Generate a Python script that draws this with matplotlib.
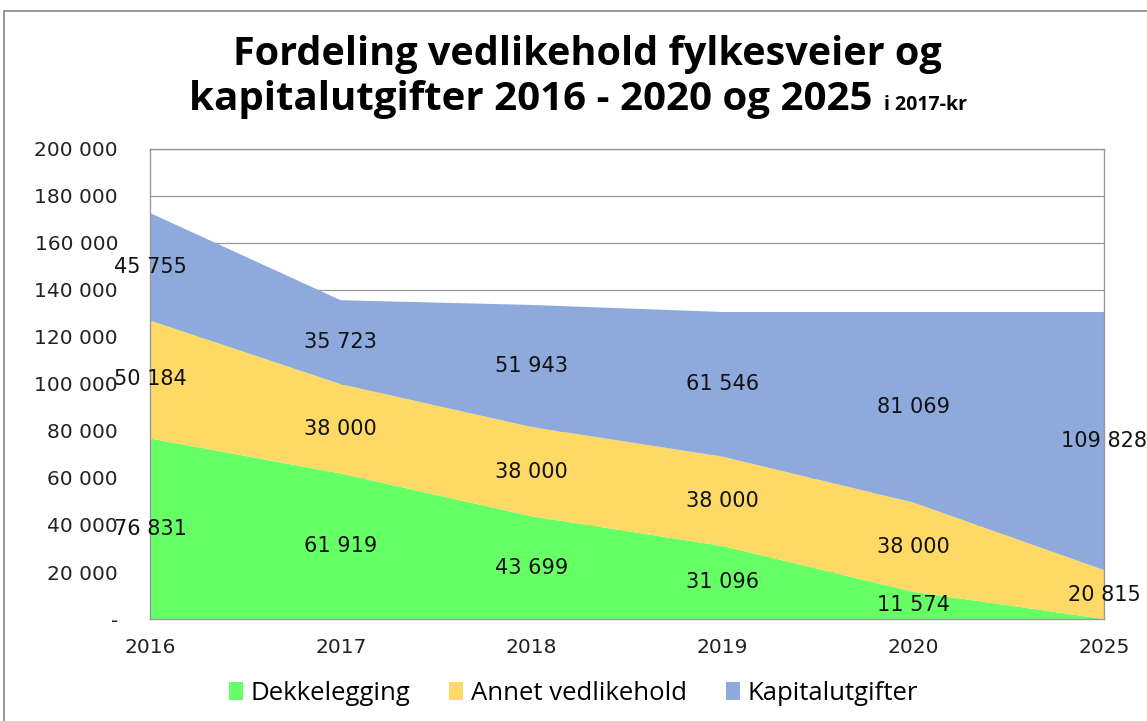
import matplotlib.pyplot as plt
import numpy as np
from matplotlib.patches import Rectangle

years = ["2016", "2017", "2018", "2019", "2020", "2025"]
dekkelegging = [76831, 61919, 43699, 31096, 11574, 0]
annet = [50184, 38000, 38000, 38000, 38000, 20815]
kapital = [45755, 35723, 51943, 61546, 81069, 109828]

series_names = ["Dekkelegging", "Annet vedlikehold", "Kapitalutgifter"]
colors = ["#66FF66", "#FFD966", "#8EA9DB"]
yticks = [0, 20000, 40000, 60000, 80000, 100000, 120000, 140000, 160000, 180000, 200000]


def fmt(v):
    if v == 0:
        return "-"
    return f"{v:,}".replace(",", " ")


W, H = 1147, 721
fig = plt.figure(figsize=(W / 100, H / 100), dpi=100)
ax = fig.add_axes([150 / W, 1 - 619 / H, 954 / W, 470 / H])

x = np.arange(len(years))
data = [dekkelegging, annet, kapital]
ax.stackplot(x, *data, colors=colors, labels=series_names, zorder=2)

# data labels in the middle of each band
base = np.zeros(len(years))
for vals in data:
    vals = np.array(vals)
    for i, v in enumerate(vals):
        if v > 0:
            ax.text(x[i], base[i] + v / 2, fmt(v), ha="center", va="center",
                    fontsize=15, family="DejaVu Sans", color="#111111",
                    zorder=3, clip_on=False)
    base = base + vals

ax.set_xlim(0, len(years) - 1)
ax.set_ylim(0, 200000)
ax.set_xticks(x)
ax.set_xticklabels(years, fontsize=14.5)
ax.set_yticks(yticks)
ax.set_yticklabels([fmt(v) for v in yticks], fontsize=14.5)
ax.tick_params(axis="both", length=0, colors="#222222")
ax.tick_params(axis="x", pad=14)
ax.tick_params(axis="y", pad=23)
ax.grid(axis="y", color="#999999", lw=0.9, zorder=1)
for s in ax.spines.values():
    s.set_color("#999999")
    s.set_linewidth(1.0)

fig.text(587 / W, 1 - 65 / H, "Fordeling vedlikehold fylkesveier og",
         ha="center", va="baseline", fontsize=28.5, fontweight="bold",
         family="Open Sans")
fig.text(872 / W, 1 - 110 / H, "kapitalutgifter 2016 - 2020 og 2025",
         ha="right", va="baseline", fontsize=29, fontweight="bold",
         family="Open Sans")
fig.text(884 / W, 1 - 110 / H, "i 2017-kr", ha="left", va="baseline",
         fontsize=14, fontweight="bold", family="Open Sans")

# chart frame
fig.add_artist(Rectangle((4 / W, -0.1), 1.2, 1 - 11 / H + 0.1,
                         transform=fig.transFigure, fill=False,
                         edgecolor="#888888", lw=1.2))

fig.legend(loc="center", bbox_to_anchor=(0.5, 1 - 693 / H), ncol=3,
           frameon=False, handlelength=0.55, handleheight=0.7,
           columnspacing=1.5, handletextpad=0.3,
           prop={"family": "Open Sans", "size": 18.5})

fig.savefig("out.png", dpi=100)
